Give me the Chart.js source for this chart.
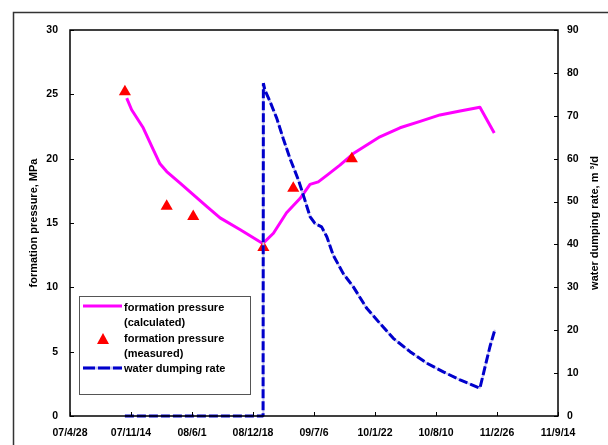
<!DOCTYPE html>
<html>
<head>
<meta charset="utf-8">
<script src="https://cdn.jsdelivr.net/npm/chart.js@4.4.1/dist/chart.umd.min.js"></script>
<style>
  html, body { margin: 0; padding: 0; background: #fff; }
  #chart { display: block; }
</style>
</head>
<body>
<canvas id="chart" width="608" height="445"></canvas>
<script>
// Days counted from 2007-04-28
const startDate = Date.UTC(2007, 3, 28);
const xTicks = [0, 200, 400, 600, 800, 1000, 1200, 1400, 1600];

// formation pressure (calculated), MPa
const calcDays = [186, 202, 240, 273, 295, 317, 361, 404, 448, 492, 557, 632, 667, 710, 754, 787, 814, 842, 885, 929, 1016, 1082, 1148, 1213, 1279, 1344, 1391];
const calcPressure = [24.7, 23.8, 22.4, 20.7, 19.6, 19.0, 18.1, 17.2, 16.3, 15.4, 14.5, 13.4, 14.2, 15.8, 16.9, 18.0, 18.2, 18.7, 19.5, 20.4, 21.7, 22.4, 22.9, 23.4, 23.7, 24.0, 22.0];

// formation pressure (measured), MPa
const measDays = [180, 317, 404, 634, 732, 924];
const measPressure = [25.2, 16.3, 15.5, 13.1, 17.7, 20.0];

// water dumping rate, m3/d
const dumpDays = [180, 633, 634, 639, 656, 678, 699, 721, 749, 765, 787, 803, 825, 842, 863, 896, 929, 973, 1016, 1060, 1115, 1170, 1224, 1279, 1344, 1361, 1377, 1393];
const dumpRate = [0, 0, 77.6, 76.0, 73.3, 69.4, 64.7, 60.1, 55.0, 51.5, 46.5, 44.9, 44.1, 41.8, 37.5, 33.2, 30.1, 25.1, 21.6, 18.1, 15.0, 12.3, 10.3, 8.4, 6.5, 11.5, 16.2, 20.1];

const FONT = "'Liberation Sans', Arial, sans-serif";
const MAGENTA = '#ff00ff';
const RED = '#ff0000';
const BLUE = '#0000cc';
const PALE_BLUE = '#c8c8f2';

const pts = (xs, ys) => xs.map((x, i) => ({ x: x, y: ys[i] }));

function dayLabel(v) {
  const d = new Date(startDate + v * 86400000);
  const yy = String(d.getUTCFullYear() % 100).padStart(2, '0');
  return yy + '/' + (d.getUTCMonth() + 1) + '/' + d.getUTCDate();
}

// frame, inward tick marks, axis titles and the boxed legend
const decorations = {
  id: 'decorations',
  beforeDraw(chart) {
    const ctx = chart.ctx;
    ctx.save();
    ctx.fillStyle = '#fff';
    ctx.fillRect(0, 0, chart.width, chart.height);
    ctx.strokeStyle = '#333';
    ctx.lineWidth = 1.5;
    ctx.strokeRect(13.5, 12.5, 800, 600);
    ctx.restore();
  },
  afterDraw(chart) {
    const ctx = chart.ctx;
    const a = chart.chartArea;
    const sx = chart.scales.x, sy = chart.scales.y, sy2 = chart.scales.y2;
    ctx.save();

    // plot frame
    ctx.strokeStyle = '#000';
    ctx.lineWidth = 1.5;
    ctx.strokeRect(a.left, a.top, a.right - a.left, a.bottom - a.top);

    // tick marks pointing into the plot
    ctx.lineWidth = 1;
    ctx.beginPath();
    sx.ticks.forEach(t => {
      const px = Math.round(sx.getPixelForValue(t.value)) + 0.5;
      ctx.moveTo(px, a.bottom);
      ctx.lineTo(px, a.bottom - 4);
    });
    sy.ticks.forEach(t => {
      const py = Math.round(sy.getPixelForValue(t.value)) + 0.5;
      ctx.moveTo(a.left, py);
      ctx.lineTo(a.left + 4, py);
    });
    sy2.ticks.forEach(t => {
      const py = Math.round(sy2.getPixelForValue(t.value)) + 0.5;
      ctx.moveTo(a.right, py);
      ctx.lineTo(a.right - 4, py);
    });
    ctx.stroke();

    // axis titles, both reading upward
    ctx.fillStyle = '#000';
    ctx.font = 'bold 11px ' + FONT;
    ctx.textAlign = 'center';
    ctx.textBaseline = 'middle';
    const midY = (a.top + a.bottom) / 2;
    ctx.save();
    ctx.translate(34, midY);
    ctx.rotate(-Math.PI / 2);
    ctx.fillText('formation pressure, MPa', 0, 0);
    ctx.restore();
    ctx.save();
    ctx.translate(595, midY);
    ctx.rotate(-Math.PI / 2);
    ctx.fillText('water dumping rate, m ³/d', 0, 0);
    ctx.restore();

    // legend
    const lx = 79.5, ly = 296.5, lw = 171, lh = 98;
    ctx.fillStyle = '#fff';
    ctx.fillRect(lx, ly, lw, lh);
    ctx.strokeStyle = '#555';
    ctx.lineWidth = 1;
    ctx.strokeRect(lx, ly, lw, lh);

    ctx.strokeStyle = MAGENTA;
    ctx.lineWidth = 3;
    ctx.beginPath();
    ctx.moveTo(83, 306);
    ctx.lineTo(122, 306);
    ctx.stroke();

    ctx.fillStyle = RED;
    ctx.beginPath();
    ctx.moveTo(103, 333);
    ctx.lineTo(109, 344);
    ctx.lineTo(97, 344);
    ctx.closePath();
    ctx.fill();

    ctx.strokeStyle = PALE_BLUE;
    ctx.lineWidth = 3;
    ctx.beginPath();
    ctx.moveTo(83, 368);
    ctx.lineTo(122, 368);
    ctx.stroke();
    ctx.strokeStyle = BLUE;
    ctx.setLineDash([12, 3]);
    ctx.beginPath();
    ctx.moveTo(83, 368);
    ctx.lineTo(122, 368);
    ctx.stroke();
    ctx.setLineDash([]);

    ctx.fillStyle = '#000';
    ctx.font = 'bold 11px ' + FONT;
    ctx.textAlign = 'left';
    ctx.textBaseline = 'middle';
    ctx.fillText('formation pressure', 124, 308);
    ctx.fillText('(calculated)', 124, 322.5);
    ctx.fillText('formation pressure', 124, 338.5);
    ctx.fillText('(measured)', 124, 354);
    ctx.fillText('water dumping rate', 124, 369);

    ctx.restore();
  }
};

new Chart(document.getElementById('chart'), {
  type: 'line',
  data: {
    datasets: [
      {
        label: 'water dumping rate',
        data: pts(dumpDays, dumpRate),
        yAxisID: 'y2',
        borderColor: BLUE,
        borderWidth: 3,
        borderDash: [9, 3],
        borderJoinStyle: 'bevel',
        pointRadius: 0,
        clip: false
      },
      {
        label: 'water dumping rate (base)',
        data: pts(dumpDays, dumpRate),
        yAxisID: 'y2',
        borderColor: PALE_BLUE,
        borderWidth: 2,
        borderJoinStyle: 'bevel',
        pointRadius: 0,
        clip: false
      },
      {
        label: 'formation pressure (measured)',
        data: pts(measDays, measPressure),
        yAxisID: 'y',
        showLine: false,
        pointStyle: 'triangle',
        pointRadius: 7,
        pointBackgroundColor: RED,
        pointBorderColor: RED,
        pointBorderWidth: 0,
        clip: false
      },
      {
        label: 'formation pressure (calculated)',
        data: pts(calcDays, calcPressure),
        yAxisID: 'y',
        borderColor: MAGENTA,
        borderWidth: 3,
        pointRadius: 0,
        borderJoinStyle: 'round'
      }
    ]
  },
  options: {
    responsive: false,
    animation: false,
    events: [],
    layout: { padding: { top: 30, left: 0, right: 0, bottom: 0 } },
    plugins: {
      legend: { display: false },
      tooltip: { enabled: false }
    },
    scales: {
      x: {
        type: 'linear',
        min: 0,
        max: 1600,
        afterBuildTicks: s => { s.ticks = xTicks.map(v => ({ value: v })); },
        afterFit: s => { s.height = 29; },
        grid: { display: false, drawTicks: false },
        border: { display: false },
        ticks: {
          padding: 11,
          maxRotation: 0,
          autoSkip: false,
          color: '#000',
          font: { family: FONT, size: 10.5, weight: 'bold' },
          callback: v => dayLabel(v)
        }
      },
      y: {
        position: 'left',
        min: 0,
        max: 30,
        afterFit: s => { s.width = 70; },
        grid: { display: false, drawTicks: false },
        border: { display: false },
        ticks: {
          stepSize: 5,
          padding: 12,
          color: '#000',
          font: { family: FONT, size: 10.5, weight: 'bold' }
        }
      },
      y2: {
        position: 'right',
        min: 0,
        max: 90,
        afterFit: s => { s.width = 50; },
        grid: { display: false, drawTicks: false },
        border: { display: false },
        ticks: {
          stepSize: 10,
          padding: 9,
          color: '#000',
          font: { family: FONT, size: 10.5, weight: 'bold' }
        }
      }
    }
  },
  plugins: [decorations]
});
</script>
</body>
</html>
